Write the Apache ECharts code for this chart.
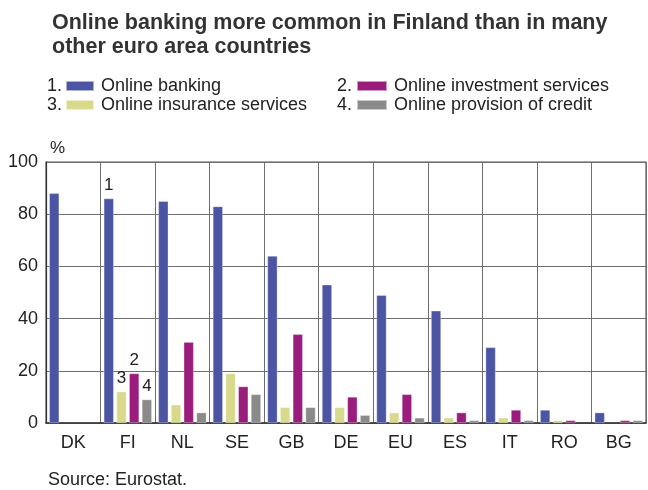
<!DOCTYPE html>
<html>
<head>
<meta charset="utf-8">
<script src="https://cdn.jsdelivr.net/npm/echarts@6/dist/echarts.min.js"></script>
<style>html,body{margin:0;padding:0;background:#fff;}#c{width:648px;height:490px;}</style>
</head>
<body>
<div id="c"></div>
<script>
var categories = ['DK','FI','NL','SE','GB','DE','EU','ES','IT','RO','BG'];
var onlineBanking    = [88, 86, 85, 83, 64, 53, 49, 43, 29, 5, 4];
var onlineInsurance  = [null, 12, 7, 19, 6, 6, 4, 2, 2, 1, null];
var onlineInvestment = [null, 19, 31, 14, 34, 10, 11, 4, 5, 1, 1];
var onlineCredit     = [null, 9, 4, 11, 6, 3, 2, 1, 1, null, 1];
var seriesNames = ['Online banking','Online insurance services','Online investment services','Online provision of credit'];
var seriesNumbers = ['1','3','2','4'];
var seriesColors = ['#4b55a3','#d8d98b','#9a1d7d','#8a8a8a'];
var yTicks = [0,20,40,60,80,100];
var labelledCategory = 'FI';

var font = '"Liberation Sans", Arial, Helvetica, sans-serif';
var chart = echarts.init(document.getElementById('c'), null, {renderer:'canvas'});
var seriesData = [onlineBanking, onlineInsurance, onlineInvestment, onlineCredit];
var labelIdx = categories.indexOf(labelledCategory);

var series = seriesData.map(function(arr, s){
  return {
    name: seriesNames[s],
    type: 'bar',
    barWidth: 10,
    barGap: '27%',
    itemStyle: {color: seriesColors[s], borderColor: 'rgba(255,255,255,0.55)', borderWidth: 0.6},
    emphasis: {disabled: true},
    data: arr.map(function(v, i){
      if (i === labelIdx) {
        return {value: v, label: {show: true, position: 'top', distance: 5, formatter: seriesNumbers[s],
          fontFamily: font, fontSize: 17, color: '#222'}};
      }
      return v;
    })
  };
});

function legendAt(name, left, top, w){
  return {
    show: true, data: [name], left: left, top: top,
    itemWidth: w, itemHeight: 10, itemGap: 0, padding: 0,
    icon: 'rect', selectedMode: false,
    textStyle: {fontFamily: font, fontSize: 18, color: '#222', padding: [0,0,0,2]}
  };
}

var option = {
  animation: false,
  backgroundColor: '#fff',
  title: {
    text: 'Online banking more common in Finland than in many\nother euro area countries',
    left: 47, top: 6,
    textStyle: {fontFamily: font, fontSize: 21.5, fontWeight: 'bold', color: '#333', lineHeight: 24}
  },
  legend: [
    legendAt(seriesNames[0], 65, 77, 28),
    legendAt(seriesNames[2], 356, 77, 30),
    legendAt(seriesNames[1], 65, 96, 28),
    legendAt(seriesNames[3], 356, 96, 30)
  ],
  graphic: [
    {type:'text', left: 47, top: 77, style:{text:'1.', font:'18px ' + font, fill:'#222'}},
    {type:'text', left: 337, top: 77, style:{text:'2.', font:'18px ' + font, fill:'#222'}},
    {type:'text', left: 47, top: 96, style:{text:'3.', font:'18px ' + font, fill:'#222'}},
    {type:'text', left: 337, top: 96, style:{text:'4.', font:'18px ' + font, fill:'#222'}},
    {type:'text', left: 48, top: 471, style:{text:'Source: Eurostat.', font:'18px ' + font, fill:'#222'}}
  ],
  grid: {left: 46, right: 2, top: 162, bottom: 67, show: true, borderColor: '#555', borderWidth: 1.2},
  xAxis: {
    type: 'category', data: categories,
    axisLine: {show: true, lineStyle: {color: '#333', width: 1.5}},
    axisTick: {show: false},
    axisLabel: {fontFamily: font, fontSize: 18, color: '#222', margin: 11, interval: 0},
    splitLine: {show: true, interval: 0, lineStyle: {color: '#6e6e6e', width: 1}}
  },
  yAxis: {
    type: 'value', min: yTicks[0], max: yTicks[yTicks.length-1], interval: 20,
    name: '%', nameLocation: 'end', nameGap: 5,
    nameTextStyle: {fontFamily: font, fontSize: 17, color: '#222', align: 'left', padding: [0,0,0,4]},
    axisLine: {show: true, lineStyle: {color: '#333', width: 1.2}},
    axisTick: {show: false},
    axisLabel: {fontFamily: font, fontSize: 18, color: '#222', margin: 8},
    splitLine: {show: true, lineStyle: {color: '#6e6e6e', width: 1}}
  },
  series: series
};
chart.setOption(option);
</script>
</body>
</html>
